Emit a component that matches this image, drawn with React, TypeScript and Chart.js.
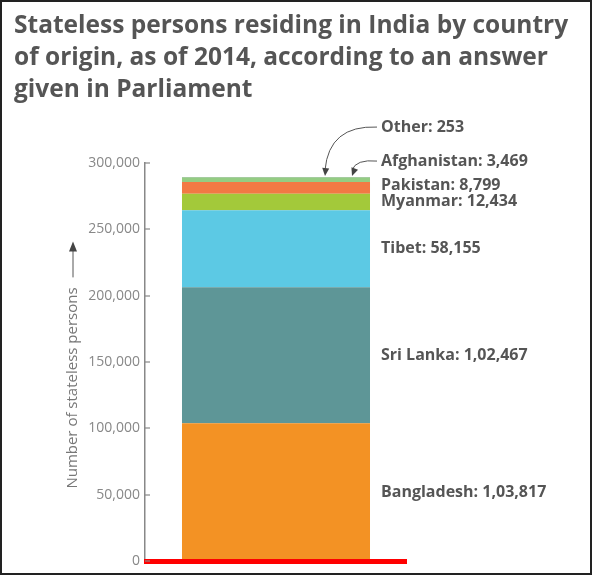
import { useEffect, useRef } from "react";
import { Chart, registerables } from "chart.js";

Chart.register(...registerables);

const countries = ["Bangladesh", "Sri Lanka", "Tibet", "Myanmar", "Pakistan", "Afghanistan", "Other"];
const persons = [103817, 102467, 58155, 12434, 8799, 3469, 253];
const colors = ["#F39224", "#5E9697", "#5CC9E4", "#A3C93A", "#F27944", "#94CC83", "#6E9E74"];

const titleLines = [
    "Stateless persons residing in India by country",
    "of origin, as of 2014, according to an answer",
    "given in Parliament",
];
const axisTitle = "Number of stateless persons";

// Indian digit grouping, 1,03,817
function inr(n: number) {
    const s = String(n);
    if (s.length <= 3) return s;
    const last3 = s.slice(-3);
    let rest = s.slice(0, -3);
    const parts: string[] = [];
    while (rest.length > 2) {
        parts.unshift(rest.slice(-2));
        rest = rest.slice(0, -2);
    }
    if (rest) parts.unshift(rest);
    return parts.join(",") + "," + last3;
}

function arrowHead(ctx: CanvasRenderingContext2D, x: number, y: number, ang: number, len: number, half: number) {
    ctx.beginPath();
    ctx.moveTo(x, y);
    ctx.lineTo(x - len * Math.cos(ang) + half * Math.sin(ang), y - len * Math.sin(ang) - half * Math.cos(ang));
    ctx.lineTo(x - len * Math.cos(ang) - half * Math.sin(ang), y - len * Math.sin(ang) + half * Math.cos(ang));
    ctx.closePath();
    ctx.fill();
}

const decorPlugin = {
    id: "decor",
    afterDraw(chart: any) {
        const { ctx, chartArea, scales } = chart;
        ctx.save();

        // title
        ctx.fillStyle = "#555";
        ctx.font = 'bold 24.5px "Open Sans"';
        ctx.textAlign = "left";
        ctx.textBaseline = "alphabetic";
        titleLines.forEach((l, i) => ctx.fillText(l, 12, 31 + i * 32));

        // baseline
        const ys = scales.y;
        const by = Math.round(chartArea.bottom);
        ctx.fillStyle = "#ff0000";
        ctx.fillRect(chartArea.left - 1, by - 2, chartArea.right - chartArea.left + 1, 5);

        // inward tick marks
        ctx.fillStyle = "#888";
        ys.ticks.forEach((t: any) => {
            const py = Math.round(ys.getPixelForValue(t.value));
            ctx.fillRect(chartArea.left, py - 0.6, 5, 1.2);
        });

        // rotated axis title with arrow
        ctx.font = '15px "Open Sans"';
        ctx.fillStyle = "#777";
        const tw = ctx.measureText(axisTitle).width;
        const gap = 10, lineLen = 26, headLen = 10;
        const groupLen = tw + gap + lineLen + headLen;
        const cy = (chartArea.top + chartArea.bottom) / 2 + 3;
        const ax = 71;
        ctx.save();
        ctx.translate(ax, cy + groupLen / 2);
        ctx.rotate(-Math.PI / 2);
        ctx.textAlign = "left";
        ctx.textBaseline = "middle";
        ctx.fillText(axisTitle, 0, 0);
        ctx.strokeStyle = "#555";
        ctx.lineWidth = 1;
        ctx.beginPath();
        ctx.moveTo(tw + gap, 0);
        ctx.lineTo(tw + gap + lineLen + 2, 0);
        ctx.stroke();
        ctx.fillStyle = "#444";
        arrowHead(ctx, groupLen, 0, 0, headLen, 4);
        ctx.restore();

        // segment labels
        ctx.font = 'bold 16px "Open Sans"';
        ctx.fillStyle = "#555";
        ctx.textAlign = "left";
        ctx.textBaseline = "middle";
        const sum = persons.reduce((a, b) => a + b, 0);
        let prevY = Infinity;
        let k = 0;
        let barTop = Infinity, barRight = 0;
        persons.forEach((_v, i) => {
            const el = chart.getDatasetMeta(i).data[0];
            barRight = el.x + el.width / 2;
            barTop = Math.min(barTop, el.y, el.base);
        });
        const lx = barRight + 11;
        persons.forEach((v, i) => {
            const el = chart.getDatasetMeta(i).data[0];
            const text = countries[i] + ": " + inr(v);
            if (v / sum > 0.02) {
                const mid = (el.y + el.base) / 2;
                const y = Math.min(mid, prevY - 16);
                ctx.fillText(text, lx, y);
                prevY = y;
            } else {
                // callout above bar with curved arrow
                const y = barTop - 16 - 34 * k;
                ctx.fillText(text, lx, y);
                const tipX = barRight - 18 - 27 * k;
                const tipY = barTop - 1;
                const sx = lx - 4, sy = y;
                const cx = tipX + 4, cyy = y - 2;
                ctx.strokeStyle = "#555";
                ctx.lineWidth = 1;
                ctx.beginPath();
                ctx.moveTo(sx, sy);
                ctx.quadraticCurveTo(cx, cyy, tipX, tipY - 6);
                ctx.stroke();
                ctx.fillStyle = "#444";
                const ang = Math.atan2(tipY - 6 - cyy, tipX - cx);
                arrowHead(ctx, tipX, tipY, ang, 8, 3.5);
                ctx.fillStyle = "#555";
                k++;
            }
        });
        ctx.restore();
    },
};

export default function App() {
    const canvasRef = useRef<HTMLCanvasElement | null>(null);
    const chartRef = useRef<Chart | null>(null);

    useEffect(() => {
        if (!canvasRef.current) return;
        if (chartRef.current) { chartRef.current.destroy(); }

        chartRef.current = new Chart(canvasRef.current, {
            type: "bar",
            data: {
                labels: [""],
                datasets: countries.map((c, i) => ({
                    label: c,
                    data: [persons[i]],
                    backgroundColor: colors[i],
                    borderWidth: 0,
                    categoryPercentage: 1,
                    barPercentage: 0.7176,
                })),
            },
            options: {
                responsive: true,
                maintainAspectRatio: false,
                animation: false,
                layout: { padding: { top: 161, left: 63, right: 183, bottom: 10 } },
                plugins: {
                    legend: { display: false },
                    tooltip: { enabled: false },
                    title: { display: false },
                },
                scales: {
                    x: {
                        stacked: true,
                        grid: { display: false, drawTicks: false },
                        ticks: { display: false },
                        border: { display: false },
                    },
                    y: {
                        stacked: true,
                        min: 0,
                        max: 300000,
                        afterFit: (s: any) => { s.width = 80; },
                        grid: { display: false, drawTicks: false },
                        border: { display: true, color: "#888", width: 1.5 },
                        ticks: {
                            stepSize: 50000,
                            padding: 5,
                            color: "#888",
                            font: { family: "Open Sans", size: 14, lineHeight: 1 },
                            callback: (v: any) => Number(v).toLocaleString("en-US"),
                        },
                    },
                },
            },
            plugins: [decorPlugin],
        });

        return () => {
            if (chartRef.current) {
                chartRef.current.destroy();
                chartRef.current = null;
            }
        };
    }, []);

    return (
        <div style={{ position: "absolute", left: 0, top: 0, width: 592, height: 575, border: "2px solid #222", boxSizing: "border-box", background: "#fff" }}>
            <div style={{ position: "relative", width: 588, height: 571 }}>
                <canvas ref={canvasRef} />
            </div>
        </div>
    );
}
